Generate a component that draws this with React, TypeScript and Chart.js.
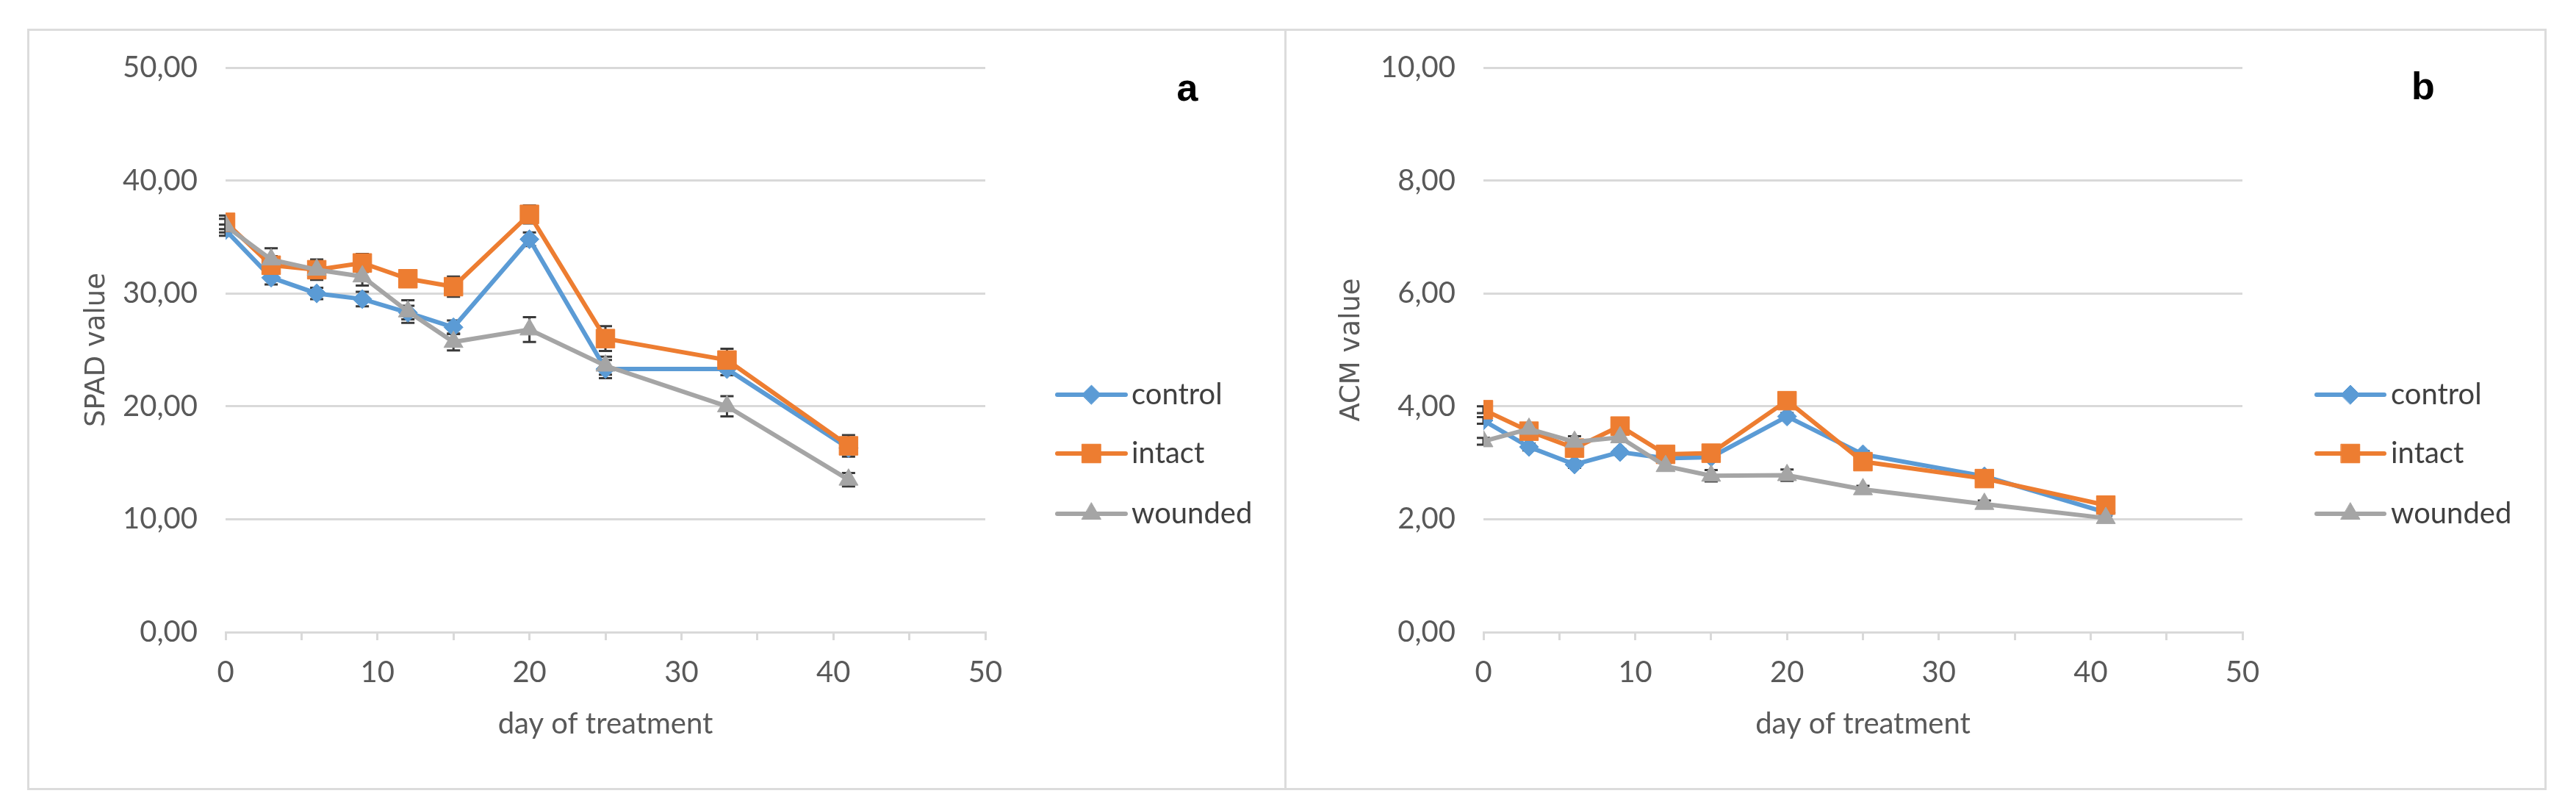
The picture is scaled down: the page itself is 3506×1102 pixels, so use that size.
import React, { useEffect, useRef } from 'react';
import { Chart, registerables } from 'chart.js';
import { drawPoint } from 'chart.js/helpers';

Chart.register(...registerables);

// ---------- data ----------
const days = [0, 3, 6, 9, 12, 15, 20, 25, 33, 41];
const seriesNames = ['control', 'intact', 'wounded'];

const spadControl = [35.6, 31.4, 30.0, 29.5, 28.3, 27.0, 34.8, 23.3, 23.3, 16.3];
const spadIntact = [36.3, 32.5, 32.1, 32.7, 31.3, 30.6, 37.0, 26.0, 24.1, 16.5];
const spadWounded = [36.0, 33.0, 32.1, 31.5, 28.4, 25.7, 26.8, 23.6, 20.0, 13.5];
const spadControlErr = [0.5, 0.6, 0.5, 0.65, 0.6, 0.6, 0.6, 0.8, 0.55, 0.5];
const spadIntactErr = [0.6, 0.8, 0.9, 0.8, 0.7, 0.9, 0.8, 1.1, 1.0, 0.95];
const spadWoundedErr = [0.6, 1.0, 0.8, 0.8, 1.0, 0.75, 1.1, 0.8, 0.9, 0.6];

const acmControl = [3.75, 3.28, 2.97, 3.19, 3.08, 3.1, 3.82, 3.15, 2.76, 2.12];
const acmIntact = [3.94, 3.56, 3.26, 3.65, 3.15, 3.17, 4.1, 3.02, 2.72, 2.25];
const acmWounded = [3.38, 3.6, 3.37, 3.45, 2.94, 2.77, 2.78, 2.53, 2.27, 2.02];
const acmControlErr = [0.06, 0.06, 0.06, 0.05, 0.05, 0.05, 0.06, 0.06, 0.05, 0.04];
const acmIntactErr = [0.06, 0.06, 0.07, 0.06, 0.05, 0.05, 0.07, 0.06, 0.05, 0.05];
const acmWoundedErr = [0.06, 0.06, 0.1, 0.08, 0.06, 0.1, 0.1, 0.06, 0.06, 0.04];

const xMax = 50;
const xStep = 5;
const xLabelEvery = 10;
const spadMax = 50;
const spadStep = 10;
const acmMax = 10;
const acmStep = 2;

// ---------- styles ----------
const colors = ['#5B9BD5', '#ED7D31', '#A5A5A5'];
const pointStyles = ['rectRot', 'rect', 'triangle'];
const pointRadii = [13, 18, 15];
const GRID = '#d9d9d9';
const TICK_TXT = '#595959';

const errorBarPlugin = {
  id: 'errorBars',
  beforeDatasetsDraw(chart: any) {
    const { ctx } = chart;
    const xs = chart.scales.x;
    const ys = chart.scales.y;
    chart.data.datasets.forEach((ds: any) => {
      const errs: number[] = ds.errors || [];
      ds.data.forEach((p: any, j: number) => {
        const e = errs[j];
        if (!e) return;
        const x = xs.getPixelForValue(p.x);
        const yTop = ys.getPixelForValue(p.y + e);
        const yBot = ys.getPixelForValue(p.y - e);
        ctx.save();
        ctx.strokeStyle = '#3a3a3a';
        ctx.lineWidth = 3;
        ctx.beginPath();
        ctx.moveTo(x, yTop);
        ctx.lineTo(x, yBot);
        ctx.moveTo(x - 9, yTop);
        ctx.lineTo(x + 9, yTop);
        ctx.moveTo(x - 9, yBot);
        ctx.lineTo(x + 9, yBot);
        ctx.stroke();
        ctx.restore();
      });
    });
  },
};

const legendPlugin = {
  id: 'lineLegend',
  afterDraw(chart: any, _args: any, opts: any) {
    const { ctx } = chart;
    chart.data.datasets.forEach((ds: any, i: number) => {
      const y = opts.ys[i];
      ctx.save();
      ctx.strokeStyle = ds.borderColor;
      ctx.lineWidth = ds.borderWidth;
      ctx.lineCap = 'round';
      ctx.beginPath();
      ctx.moveTo(opts.x1, y);
      ctx.lineTo(opts.x2, y);
      ctx.stroke();
      ctx.fillStyle = ds.pointBackgroundColor;
      ctx.strokeStyle = ds.pointBorderColor;
      ctx.lineWidth = 1;
      drawPoint(
        ctx,
        { pointStyle: ds.pointStyle, radius: ds.pointRadius, borderWidth: 1, rotation: 0 } as any,
        (opts.x1 + opts.x2) / 2,
        y
      );
      ctx.fillStyle = '#404040';
      ctx.font = '40px Lato';
      ctx.textAlign = 'left';
      ctx.textBaseline = 'middle';
      ctx.fillText(ds.label, opts.textX, y);
      ctx.restore();
    });
    ctx.save();
    ctx.fillStyle = '#000000';
    ctx.font = 'bold 52px "Liberation Sans"';
    ctx.textAlign = 'center';
    ctx.textBaseline = 'alphabetic';
    ctx.fillText(opts.letter, opts.letterX, opts.letterY);
    ctx.restore();
  },
};

const fmt = (v: number) => v.toFixed(2).replace('.', ',');

type PanelProps = {
  left: number;
  width: number;
  values: number[][];
  errors: number[][];
  yMax: number;
  yStep: number;
  yTitle: string;
  yTitlePad: number;
  axisWidth: number;
  padRight: number;
  legendX1: number;
  legendX2: number;
  legendTextX: number;
  letter: string;
  letterX: number;
  letterY: number;
};

function Panel(props: PanelProps) {
  const ref = useRef<HTMLCanvasElement | null>(null);
  useEffect(() => {
    if (!ref.current) return;
    const datasets = seriesNames.map((name, i) => ({
      label: name,
      data: days.map((d, j) => ({ x: d, y: props.values[i][j] })),
      errors: props.errors[i],
      borderColor: colors[i],
      backgroundColor: colors[i],
      pointBackgroundColor: colors[i],
      pointBorderColor: colors[i],
      pointBorderWidth: 1,
      pointStyle: pointStyles[i],
      pointRadius: pointRadii[i],
      borderWidth: 6,
      showLine: true,
      tension: 0,
      order: 3 - i,
    }));
    const chart = new Chart(ref.current, {
      type: 'scatter',
      data: { datasets } as any,
      plugins: [errorBarPlugin, legendPlugin],
      options: {
        responsive: false,
        animation: false,
        devicePixelRatio: 1,
        layout: { padding: { left: 0, right: props.padRight, top: 92, bottom: 0 } },
        plugins: {
          legend: { display: false },
          tooltip: { enabled: false },
          lineLegend: {
            ys: [537, 617, 699],
            x1: props.legendX1,
            x2: props.legendX2,
            textX: props.legendTextX,
            letter: props.letter,
            letterX: props.letterX,
            letterY: props.letterY,
          },
        } as any,
        scales: {
          x: {
            type: 'linear',
            min: 0,
            max: xMax,
            ticks: {
              stepSize: xStep,
              autoSkip: false,
              maxRotation: 0,
              padding: 20,
              color: TICK_TXT,
              font: { family: 'Lato', size: 40 },
              callback: (v: any) => (Number(v) % xLabelEvery === 0 ? String(v) : ''),
            },
            grid: { drawOnChartArea: false, drawTicks: true, tickLength: 11, color: GRID, lineWidth: 3 },
            border: { display: true, color: GRID, width: 3 },
            title: {
              display: true,
              text: 'day of treatment',
              color: TICK_TXT,
              font: { family: 'Lato', size: 40 },
              padding: { top: 0, bottom: 93 },
            },
            afterFit: (s: any) => {
              s.height = 242;
            },
          },
          y: {
            type: 'linear',
            min: 0,
            max: props.yMax,
            ticks: {
              stepSize: props.yStep,
              padding: 38,
              color: TICK_TXT,
              font: { family: 'Lato', size: 40 },
              callback: (v: any) => fmt(Number(v)),
            },
            grid: { drawTicks: false, color: GRID, lineWidth: 3 },
            border: { display: false },
            title: {
              display: true,
              text: props.yTitle,
              color: TICK_TXT,
              font: { family: 'DejaVu Sans', size: 37 },
              padding: { top: props.yTitlePad, bottom: 0 },
            },
            afterFit: (s: any) => {
              s.width = props.axisWidth;
            },
          },
        } as any,
      },
    });
    let alive = true;
    if ((document as any).fonts && (document as any).fonts.ready) {
      (document as any).fonts.ready.then(() => {
        if (alive) chart.update();
      });
    }
    return () => {
      alive = false;
      chart.destroy();
    };
  }, []);
  return (
    <canvas
      ref={ref}
      width={props.width}
      height={1102}
      style={{ position: 'absolute', left: props.left, top: 0, width: props.width, height: 1102 }}
    />
  );
}

export default function App() {
  return (
    <div style={{ position: 'absolute', left: 0, top: 0, width: 3506, height: 1102, background: '#ffffff', overflow: 'hidden' }}>
      <Panel
        left={0}
        width={1750}
        values={[spadControl, spadIntact, spadWounded]}
        errors={[spadControlErr, spadIntactErr, spadWoundedErr]}
        yMax={spadMax}
        yStep={spadStep}
        yTitle="SPAD value"
        yTitlePad={110}
        axisWidth={307}
        padRight={1750 - 1341}
        legendX1={1439}
        legendX2={1532}
        legendTextX={1540}
        letter="a"
        letterX={1616}
        letterY={137}
      />
      <Panel
        left={1750}
        width={1756}
        values={[acmControl, acmIntact, acmWounded]}
        errors={[acmControlErr, acmIntactErr, acmWoundedErr]}
        yMax={acmMax}
        yStep={acmStep}
        yTitle="ACM value"
        yTitlePad={68}
        axisWidth={269}
        padRight={1756 - 1302}
        legendX1={1403}
        legendX2={1495}
        legendTextX={1504}
        letter="b"
        letterX={1548}
        letterY={135}
      />
      <div style={{ position: 'absolute', left: 37, top: 39, width: 1714, height: 1036, boxSizing: 'border-box', border: '3px solid #dcdcdc', pointerEvents: 'none' }} />
      <div style={{ position: 'absolute', left: 1748, top: 39, width: 1718, height: 1036, boxSizing: 'border-box', border: '3px solid #dcdcdc', pointerEvents: 'none' }} />
    </div>
  );
}
